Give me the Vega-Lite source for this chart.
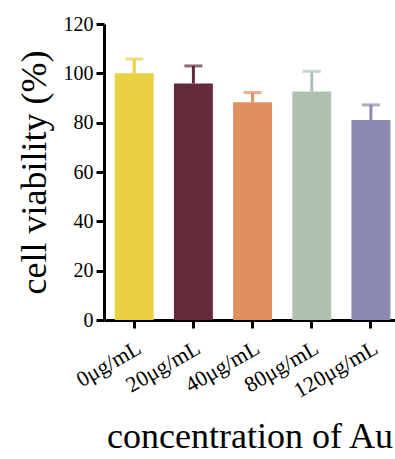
{
  "$schema": "https://vega.github.io/schema/vega-lite/v6.json",
  "autosize": "none",
  "width": 291,
  "height": 296,
  "padding": {"left": 104, "top": 24, "right": 0, "bottom": 139},
  "background": "white",
  "config": {
    "view": {"stroke": null},
    "font": "Liberation Serif",
    "axis": {"grid": false, "domainColor": "black", "domainWidth": 3, "tickColor": "black", "tickWidth": 3, "tickSize": 8, "labelColor": "black", "titleColor": "black", "labelFont": "Liberation Serif", "titleFont": "Liberation Serif", "titleFontWeight": "normal", "labelFontSize": 20, "titleFontSize": 36}
  },
  "data": {
    "values": [
      {"group": "0μg/mL", "value": 100, "upper": 105.8},
      {"group": "20μg/mL", "value": 95.9, "upper": 103},
      {"group": "40μg/mL", "value": 88.3, "upper": 92.2},
      {"group": "80μg/mL", "value": 92.6, "upper": 100.8},
      {"group": "120μg/mL", "value": 81.1, "upper": 87.2}
    ]
  },
  "encoding": {
    "x": {
      "field": "group", "type": "nominal", "sort": null,
      "scale": {"paddingInner": 0.342, "paddingOuter": 0.13, "align": 0.7},
      "axis": {"title": "concentration of Au", "labelAngle": -30, "labelFontSize": 22, "labelFont": "Liberation Serif", "labelPadding": 9, "titlePadding": 18}
    },
    "color": {
      "field": "group", "type": "nominal", "sort": null, "legend": null,
      "scale": {"range": ["#E9D143", "#632A3A", "#E08F5E", "#B0C1B3", "#8A89B1"]}
    }
  },
  "layer": [
    {
      "mark": {"type": "rule", "strokeWidth": 3},
      "encoding": {
        "y": {"field": "value", "type": "quantitative"},
        "y2": {"field": "upper"}
      }
    },
    {
      "mark": {"type": "tick", "size": 18, "thickness": 3},
      "encoding": {
        "y": {"field": "upper", "type": "quantitative"}
      }
    },
    {
      "mark": {"type": "bar"},
      "encoding": {
        "y": {
          "field": "value", "type": "quantitative",
          "scale": {"domain": [0, 120], "nice": false},
          "axis": {"title": "cell viability (%)", "values": [0, 20, 40, 60, 80, 100, 120], "labelFont": "Liberation Serif", "labelPadding": 3, "titlePadding": 10}
        }
      }
    }
  ]
}
